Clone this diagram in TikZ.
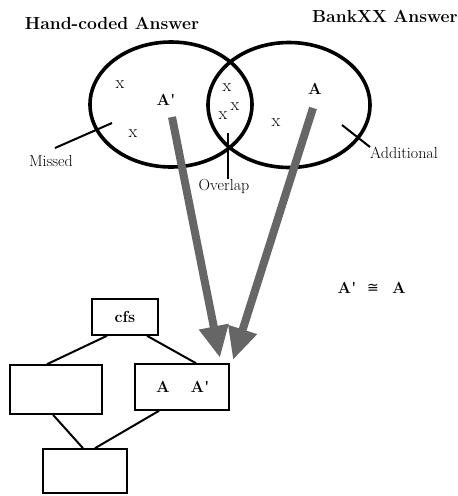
\documentclass[tikz,border=0pt]{standalone}
\usepackage{fontspec}
\newfontfamily\dvsym{DejaVu Sans}
\usetikzlibrary{shapes.geometric,arrows.meta}
\begin{document}
\begin{tikzpicture}[x=1pt,y=-1pt,
  venn/.style={draw,ellipse,line width=3.6pt,minimum width=162pt,minimum height=125pt,inner sep=0pt},
  title/.style={font=\fontsize{17.5}{20}\selectfont\bfseries,inner sep=0pt},
  lbl/.style={font=\fontsize{16}{18}\selectfont,inner sep=0pt},
  xmark/.style={font=\fontsize{18}{20}\selectfont,inner sep=0pt},
  bigl/.style={font=\fontsize{16}{18}\selectfont\bfseries,inner sep=0pt},
  pointer/.style={line width=2pt},
  bigarrow/.style={line width=8pt,draw=black!60,-{Triangle[length=32pt,width=28pt,fill=black!60]}},
  box/.style={draw,line width=1.6pt,inner sep=0pt},
  link/.style={line width=2pt}]
\useasboundingbox (0,0) rectangle (458,496);
% titles
\node[title] (t1) at (112,23) {Hand-coded Answer};
\node[title] (t2) at (385,16) {BankXX Answer};
% venn
\node[venn] (hand) at (171,104.5) {};
\node[venn] (bank) at (289,105) {};
% marks
\node[xmark] (x1) at (120,85) {x};
\node[xmark] (x2) at (133,134) {x};
\node[xmark] (x3) at (227,88) {x};
\node[xmark] (x4) at (235,107) {x};
\node[xmark] (x5) at (223,116) {x};
\node[xmark] (x6) at (276,123) {x};
\node[bigl] (ap) at (166,100) {A\textquotesingle};
\node[bigl] (a) at (315,89) {A};
% labels
\node[lbl] (missed) at (51,161) {Missed};
\coordinate (mi) at (112,123);
\coordinate (m0) at (55,148);
\draw[pointer] (m0) -- (mi);
\node[lbl] (overlap) at (224,186) {Overlap};
\coordinate (ov) at (228,133);
\draw[pointer] (ov) -- (overlap.north -| ov);
\node[lbl] (addl) at (404,153) {Additional};
\coordinate (ad) at (342,125);
\draw[pointer] (ad) -- (addl.north west);
% congruence
\node[bigl] (eqa) at (347,288) {A\textquotesingle};
\node[inner sep=0pt,font=\fontsize{14}{16}\selectfont\dvsym] (eqs) at (373,288) {≅};
\node[bigl] (eqb) at (399,288) {A};
% boxes
\node[box,minimum width=66pt,minimum height=36pt] (cfs) at (125,317) {\fontsize{16}{18}\selectfont\bfseries cfs};
\node[box,minimum width=92pt,minimum height=49pt] (lb) at (56,389.5) {};
\node[box,minimum width=94pt,minimum height=46pt] (rb) at (182,387) {};
\node[bigl] (ra) at (163,387) {A};
\node[bigl] (rap) at (200,387) {A\textquotesingle};
\node[box,minimum width=84pt,minimum height=44pt] (bb) at (85,471) {};
\draw[link] ([xshift=-18pt]cfs.south) -- ([xshift=-9pt]lb.north);
\draw[link] ([xshift=22pt]cfs.south) -- ([xshift=14pt]rb.north);
\draw[link] ([xshift=-3pt]lb.south) -- ([xshift=-2pt]bb.north);
\draw[link] ([xshift=-23pt]rb.south) -- ([xshift=10pt]bb.north);
% big arrows
\coordinate (s1) at (172,117);
\coordinate (e1) at (220,358);
\coordinate (s2) at (313,108);
\coordinate (e2) at (233,360);
\draw[bigarrow] (s1) -- (e1);
\draw[bigarrow] (s2) -- (e2);
\end{tikzpicture}
\end{document}
